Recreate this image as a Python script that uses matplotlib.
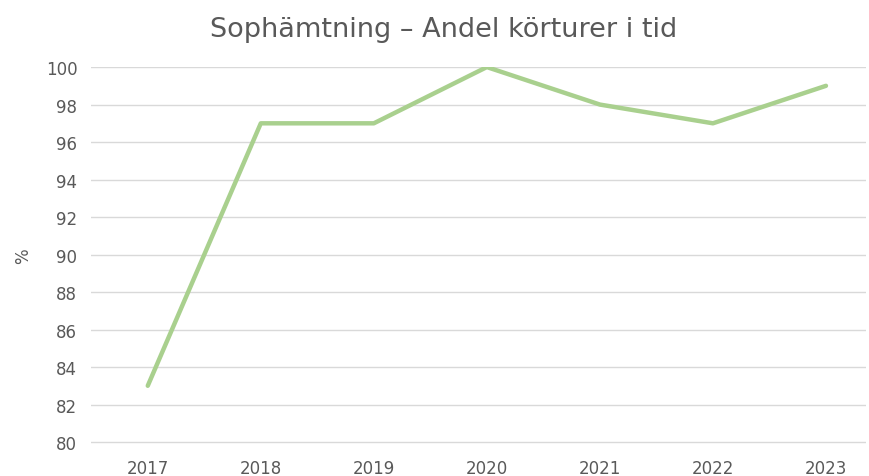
import matplotlib
matplotlib.use('Agg')
import matplotlib.pyplot as plt

plt.rcParams['font.family'] = ['DejaVu Sans']

years = ['2017', '2018', '2019', '2020', '2021', '2022', '2023']
values = [83, 97, 97, 100, 98, 97, 99]
y_ticks = list(range(80, 101, 2))

TEXT = '#595959'
LINE = '#a9d08e'
GRID = '#d9d9d9'

fig = plt.figure(figsize=(8.69, 4.77), dpi=100)
fig.patch.set_facecolor('white')
ax = fig.add_axes([0.105, 0.0673, 0.891, 0.790])

x = list(range(len(years)))
ax.plot(x, values, color=LINE, linewidth=3.2, solid_capstyle='round', zorder=3)

ax.set_xlim(-0.5, 6.35)
ax.set_ylim(79.9, 100)
ax.set_yticks(y_ticks)
ax.set_xticks(x)
ax.set_xticklabels(years)
ax.grid(axis='y', color=GRID, linewidth=1)
ax.set_axisbelow(True)
for s in ax.spines.values():
    s.set_visible(False)
ax.tick_params(length=0, labelsize=12, colors=TEXT, pad=10)
ax.tick_params(axis='x', pad=11)
ax.set_ylabel('%', fontsize=12, color=TEXT, labelpad=10)

fig.suptitle('Sophämtning – Andel körturer i tid', fontsize=19.5, color=TEXT,
             x=0.51, y=0.965)

fig.savefig('out.png', dpi=100, facecolor='white')
